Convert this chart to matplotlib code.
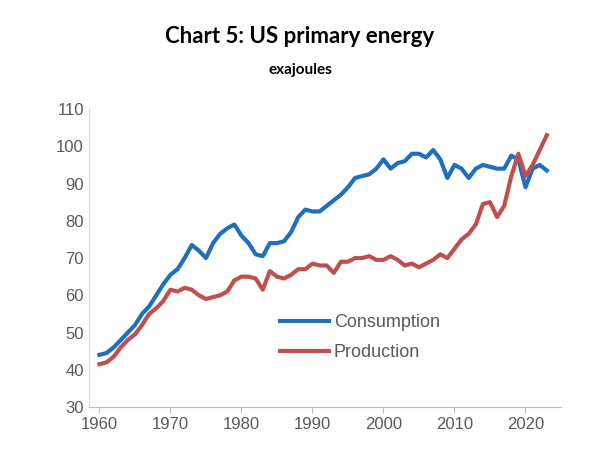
import numpy as np
import matplotlib.pyplot as plt

years = list(range(1960, 2024))
consumption = [44, 44.5, 46, 48, 50, 52, 55, 57, 60, 63, 65.5, 67, 70, 73.5, 72, 70,
               74, 76.5, 78, 79, 76, 74, 71, 70.5, 74, 74, 74.5, 77, 81, 83,
               82.5, 82.5, 84, 85.5, 87, 89, 91.5, 92, 92.5, 94, 96.5, 94, 95.5, 96,
               98, 98, 97, 99, 96.5, 91.5, 95, 94, 91.5, 94, 95, 94.5, 94, 94,
               97.5, 96.5, 89, 94, 95, 93.5]
production = [41.5, 42, 43.5, 46, 48, 49.5, 52, 55, 56.5, 58.5, 61.5, 61, 62, 61.5, 60, 59,
              59.5, 60, 61, 64, 65, 65, 64.5, 61.5, 66.5, 65, 64.5, 65.5, 67, 67,
              68.5, 68, 68, 66, 69, 69, 70, 70, 70.5, 69.5, 69.5, 70.5, 69.5, 68,
              68.5, 67.5, 68.5, 69.5, 71, 70, 72.5, 75, 76.5, 79, 84.5, 85, 81, 84,
              92, 98, 92, 95, 99, 103]

plt.rcParams['font.family'] = 'Liberation Sans'
fig = plt.figure(figsize=(6, 4.5), dpi=100)
ax = fig.add_axes([0.148, 0.0956, 0.787, 0.662])
ax.plot(years, consumption, color='#1f6fbf', lw=3, label='Consumption')
ax.plot(years, production, color='#c0504d', lw=3, label='Production')
ax.set_xlim(1958.5, 2025)
ax.set_ylim(30, 110)
ax.set_yticks(range(30, 111, 10))
ax.set_xticks(range(1960, 2021, 10))
for s in ['top', 'right']:
    ax.spines[s].set_visible(False)
ax.spines['left'].set_color('#d9d9d9')
ax.spines['bottom'].set_color('#bfbfbf')
ax.tick_params(labelsize=12, colors='#595959', length=0)
ax.tick_params(axis='x', length=4, color='#bfbfbf')
ax.legend(loc='lower left', bbox_to_anchor=(0.37, 0.1), frameon=False, fontsize=13,
          handlelength=2.7, handletextpad=0.3, labelspacing=0.7, labelcolor='#595959')
fig.text(0.5, 0.905, 'Chart 5: US primary energy', ha='center', fontsize=16,
         fontweight='bold', family='Lato')
fig.text(0.5, 0.835, 'exajoules', ha='center', fontsize=11, fontweight='bold', family='Lato')
fig.savefig('out.png')
